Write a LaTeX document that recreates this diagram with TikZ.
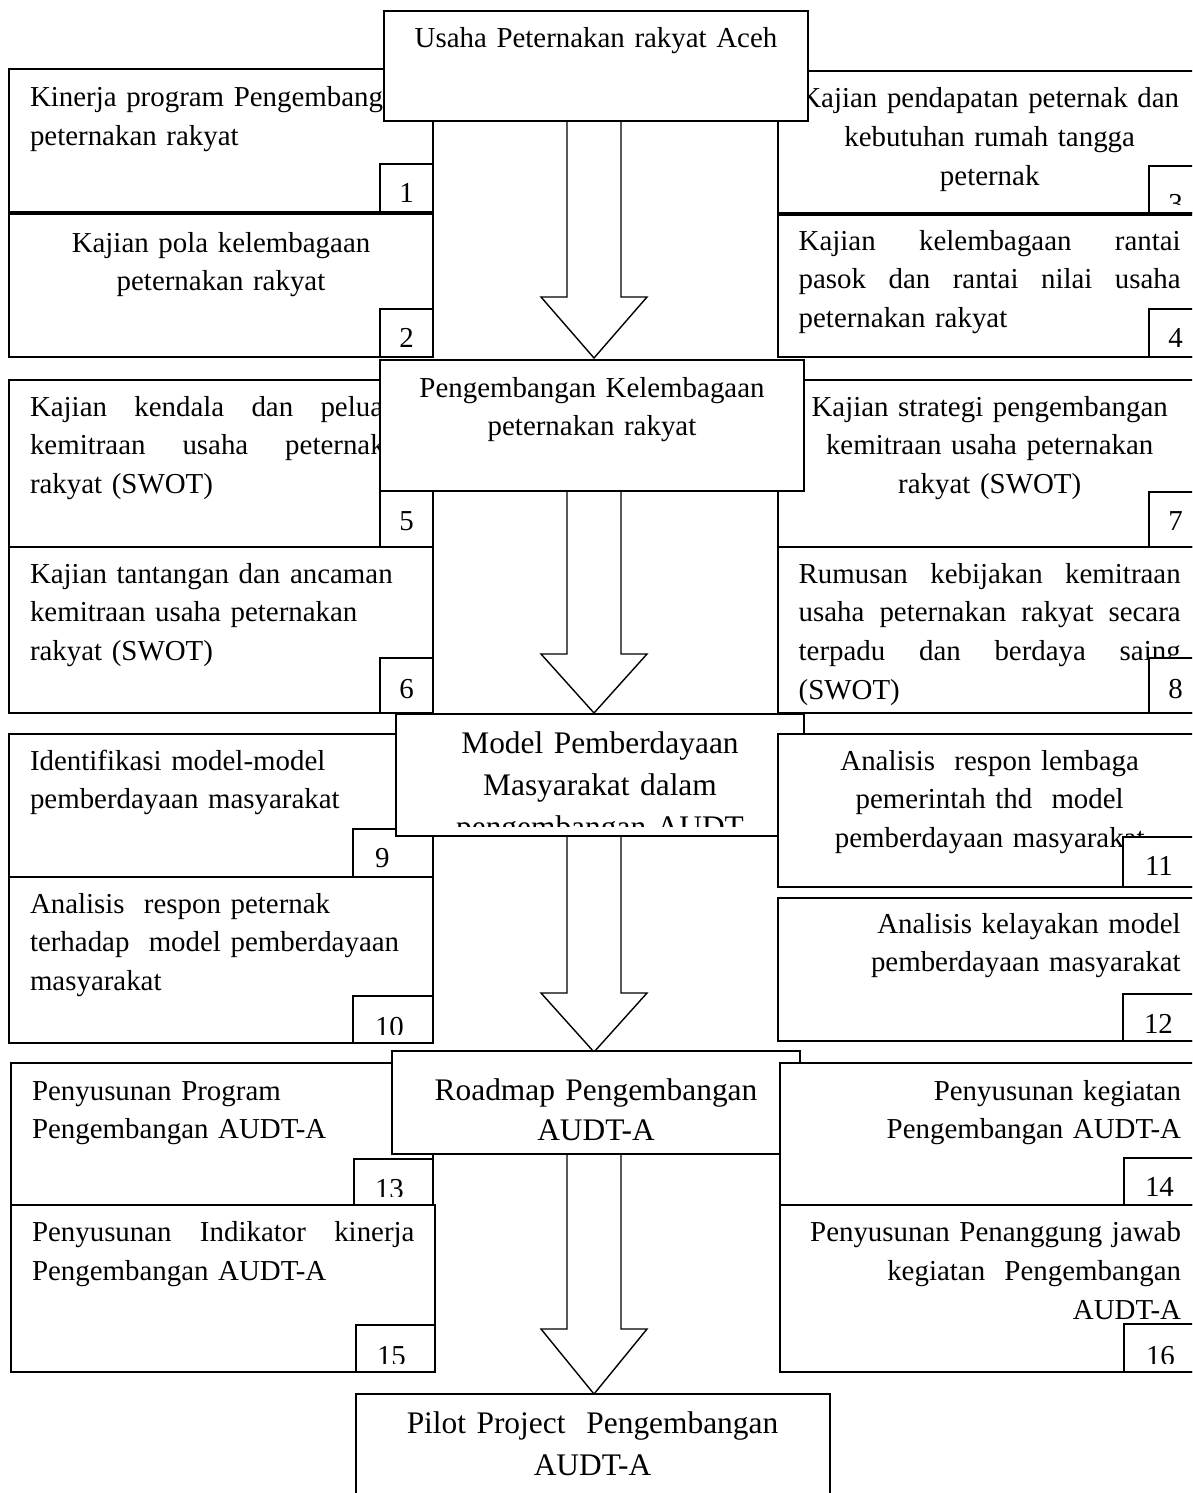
\documentclass[tikz,border=0pt]{standalone}
\usepackage{fontspec}
\setmainfont{Liberation Serif}
\usetikzlibrary{calc}
\hyphenpenalty=10000
\exhyphenpenalty=10000
\newcommand\jlw[2]{\makebox[#1][s]{\spaceskip=.25em plus 1fil\relax #2}}
\newcommand\jl[1]{\jlw{382pt}{#1}}
\newcommand\numlab[4]{%
  \begin{scope}
    \clip (#1.north west) rectangle ($(#1.south east)+(0,-9)$);
    \node[txt, anchor=#2] at #3 {#4};
  \end{scope}}
\newcommand\bigarrow[3]{%
  \draw[arr] ($(#1)+(-27,0)$) -- ($(#2)+(-27,-#3)$) -- ($(#2)+(-53,-#3)$) -- (#2)
    -- ($(#2)+(53,-#3)$) -- ($(#2)+(27,-#3)$) -- ($(#1)+(27,0)$) -- cycle;}
\begin{document}
\begin{tikzpicture}[x=1pt,y=-1pt,
  box/.style={draw, line width=2pt, fill=white, inner sep=0pt, outer sep=0pt, anchor=north west},
  arr/.style={draw, line width=1.4pt, fill=white, line join=miter},
  txt/.style={inner sep=0pt, outer sep=0pt, font=\fontsize{28.9}{38.8}\selectfont},
  para/.style={txt, anchor=base west, text width=400pt},
  bigpara/.style={para, font=\fontsize{31.4}{#1}\selectfont},
]
\useasboundingbox (0,0) rectangle (1192,1493);
\clip (0,0) rectangle (1192,1493);
\fill[white] (0,0) rectangle (1192,1493);

% ---------- row 1 ----------
\node[box, minimum width=424, minimum height=143] (b1) at (9,69) {};
\node[para, align=left] (t1) at (30,107) {Kinerja program Pengembangan\\peternakan rakyat};
\node[box, minimum width=53, minimum height=48] (n1) at (380,164) {};
\numlab{n1}{base}{(406.5,202)}{1}

\node[box, minimum width=424, minimum height=143] (b2) at (9,214) {};
\node[para, align=center] (t2) at (21,252) {Kajian pola kelembagaan\\peternakan rakyat};
\node[box, minimum width=53, minimum height=48] (n2) at (380,309) {};
\numlab{n2}{base}{(406.5,347)}{2}

\node[box, minimum width=423, minimum height=142.3] (b3) at (778,70.7) {};
\node[para, align=center] (t3) at (789.7,108) {Kajian pendapatan peternak dan\\kebutuhan rumah tangga\\peternak};
\node[box, minimum width=52, minimum height=47] (n3) at (1149,166) {};
\numlab{n3}{base}{(1175.5,213)}{3}

\node[box, minimum width=423, minimum height=142] (b4) at (778,215) {};
\node[para, align=left] (t4) at (798.7,250) {\jl{Kajian kelembagaan rantai}\\\jl{pasok dan rantai nilai usaha}\\peternakan rakyat};
\node[box, minimum width=52, minimum height=48] (n4) at (1149,309) {};
\numlab{n4}{base}{(1175.5,347)}{4}

\coordinate (a1s) at (594,121);
\coordinate (a1e) at (594,358);
\bigarrow{a1s}{a1e}{61}

\node[box, minimum width=424, minimum height=110.3] (T) at (384,10.7) {};
\node[para, align=center] (tT) at (396,48) {Usaha Peternakan rakyat Aceh};

% ---------- row 2 ----------
\node[box, minimum width=424, minimum height=167] (b5) at (9,380) {};
\node[para, align=left] (t5) at (30,416) {\jl{Kajian kendala dan peluang}\\\jl{kemitraan usaha peternakan}\\rakyat (SWOT)};
\node[box, minimum width=53, minimum height=56] (n5) at (380,491) {};
\numlab{n5}{base}{(406.5,530)}{5}

\node[box, minimum width=424, minimum height=166] (b6) at (9,547) {};
\node[para, align=left] (t6) at (30,583) {Kajian tantangan dan ancaman\\kemitraan usaha peternakan\\rakyat (SWOT)};
\node[box, minimum width=53, minimum height=55] (n6) at (380,658) {};
\numlab{n6}{base}{(406.5,698)}{6}

\node[box, minimum width=423, minimum height=167] (b7) at (778,380) {};
\node[para, align=center] (t7) at (789.7,416) {Kajian strategi pengembangan\\kemitraan usaha peternakan\\rakyat (SWOT)};
\node[box, minimum width=52, minimum height=55.3] (n7) at (1149,491.7) {};
\numlab{n7}{base}{(1175.5,530)}{7}

\node[box, minimum width=423, minimum height=166] (b8) at (778,547) {};
\node[para, align=left] (t8) at (798.7,583) {\jl{Rumusan kebijakan kemitraan}\\\jl{usaha peternakan rakyat secara}\\\jl{terpadu dan berdaya saing}\\(SWOT)};
\node[box, minimum width=52, minimum height=55] (n8) at (1149,658) {};
\numlab{n8}{base}{(1175.5,698)}{8}

\coordinate (a2s) at (594,491);
\coordinate (a2e) at (594,713);
\bigarrow{a2s}{a2e}{59}

\node[box, minimum width=424, minimum height=131] (P) at (380,360) {};
\node[para, align=center] (tP) at (392,397) {Pengembangan Kelembagaan\\peternakan rakyat};

% ---------- row 3 ----------
\node[box, minimum width=424, minimum height=143] (b9) at (9,734) {};
\node[para, align=left] (t9) at (30,770) {Identifikasi model-model\\pemberdayaan masyarakat};
\node[box, minimum width=80, minimum height=48] (n9) at (353,829) {};
\numlab{n9}{base west}{(375,867)}{9}

\node[box, minimum width=424, minimum height=166] (b10) at (9,877) {};
\node[para, align=left] (t10) at (30,913) {Analisis\ \ respon peternak\\terhadap\ \ model pemberdayaan\\masyarakat};
\node[box, minimum width=80, minimum height=47] (n10) at (353,996) {};
\numlab{n10}{base west}{(375,1036)}{10}

\coordinate (a3s) at (594,836);
\coordinate (a3e) at (594,1052);
\bigarrow{a3s}{a3e}{59}

\node[box, minimum width=408, minimum height=122] (M) at (396,714) {};
\begin{scope}
  \clip (396,714) rectangle (804,826);
  \node[bigpara=42.2, align=center] (tM) at (400,753.5) {Model Pemberdayaan\\Masyarakat dalam\\pengembangan AUDT};
\end{scope}

\node[box, minimum width=423, minimum height=153] (b11) at (778,734) {};
\node[para, align=center] (t11) at (789.7,770) {Analisis\ \ respon lembaga\\pemerintah thd\ \ model\\pemberdayaan masyarakat};
\node[box, minimum width=78.5, minimum height=50] (n11) at (1122.5,837) {};
\numlab{n11}{base west}{(1145,875)}{11}

\node[box, minimum width=423, minimum height=143] (b12) at (778,898) {};
\node[para, align=right] (t12) at (780.7,933) {Analisis kelayakan model\\pemberdayaan masyarakat};
\node[box, minimum width=78.5, minimum height=47] (n12) at (1122.5,994) {};
\numlab{n12}{base west}{(1144,1033)}{12}

% ---------- row 4 ----------
\node[box, minimum width=422, minimum height=142] (b13) at (11,1063) {};
\node[para, align=left] (t13) at (32,1100) {Penyusunan Program\\Pengembangan AUDT-A};
\node[box, minimum width=79, minimum height=46] (n13) at (354,1159) {};
\numlab{n13}{base west}{(375,1198)}{13}

\node[box, minimum width=424, minimum height=167] (b15) at (11,1205) {};
\node[para, align=left] (t15) at (32,1241.7) {\jlw{382.5pt}{Penyusunan Indikator kinerja}\\Pengembangan AUDT-A};
\node[box, minimum width=79.5, minimum height=47] (n15) at (355.5,1325) {};
\numlab{n15}{base west}{(377,1365)}{15}

\coordinate (a4s) at (594,1154);
\coordinate (a4e) at (594,1394);
\bigarrow{a4s}{a4e}{65}

\node[box, minimum width=408, minimum height=103.5] (R) at (392,1050.5) {};
\node[bigpara=40, align=center] (tR) at (396,1100) {Roadmap Pengembangan\\AUDT-A};

\node[box, minimum width=421.5, minimum height=142] (b14) at (779.5,1063) {};
\node[para, align=right] (t14) at (781,1100) {Penyusunan kegiatan\\Pengembangan AUDT-A};
\node[box, minimum width=77, minimum height=47] (n14) at (1124,1158) {};
\numlab{n14}{base west}{(1145,1196)}{14}

\node[box, minimum width=421.5, minimum height=167] (b16) at (779.5,1205) {};
\node[para, align=right] (t16) at (781,1241.7) {Penyusunan Penanggung jawab\\kegiatan\ \ Pengembangan\\AUDT-A};
\node[box, minimum width=77, minimum height=48] (n16) at (1124,1324) {};
\numlab{n16}{base west}{(1146,1365)}{16}

\node[box, minimum width=474, minimum height=130] (pilot) at (356,1394) {};
\node[bigpara=42.5, align=center] (tpilot) at (392.5,1433) {Pilot Project\ \ Pengembangan\\AUDT-A};
\end{tikzpicture}
\end{document}
